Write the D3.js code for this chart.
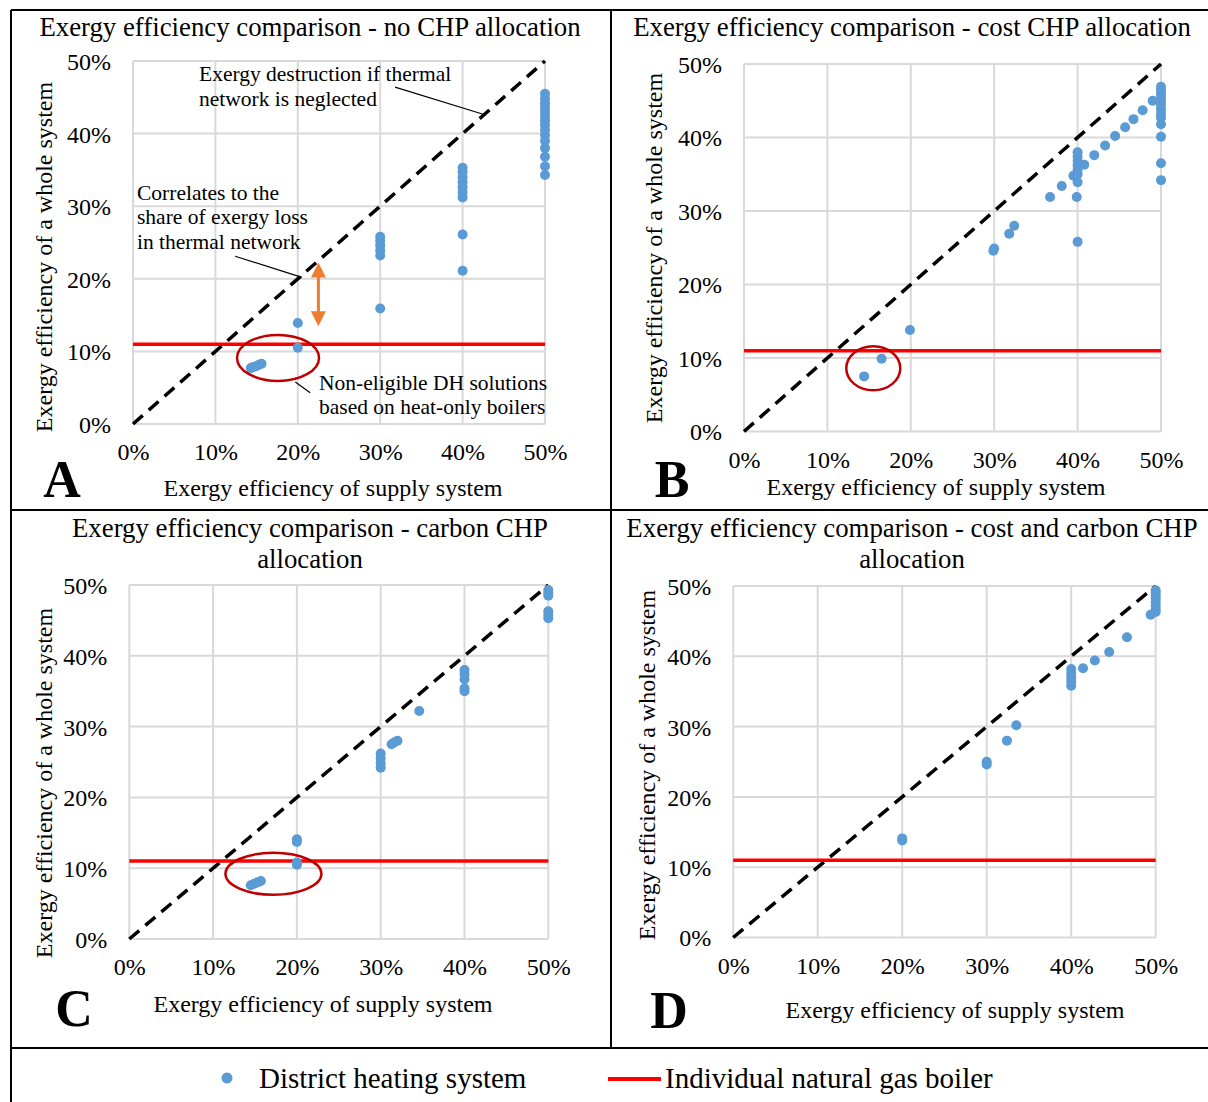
<!DOCTYPE html>
<html>
<head>
<meta charset="utf-8">
<script src="https://cdn.jsdelivr.net/npm/d3@7"></script>
<style>
  body { margin: 0; background: #fff; }
  text { font-family: "Liberation Serif", "Times New Roman", serif; fill: #000; }
</style>
</head>
<body>
<script>
(function() {

    // Tick values (percent) shared by every panel
    var tickValues = [0, 10, 20, 30, 40, 50];
    var boilerEfficiency = 11;

    // District heating points per panel, [supply, whole system] in percent
    var dhNoAllocation = [
        [50, 34.3], [50, 35.5], [50, 36.8], [50, 38.0], [50, 39.0], [50, 39.8], [50, 40.5],
        [50, 41.2], [50, 41.8], [50, 42.4], [50, 43.0], [50, 43.6], [50, 44.2], [50, 44.8], [50, 45.5],
        [40, 31.2], [40, 31.9], [40, 32.6], [40, 33.3], [40, 34.0], [40, 34.7], [40, 35.3],
        [40, 26.1], [40, 21.1],
        [30, 23.2], [30, 23.9], [30, 24.6], [30, 25.2], [30, 25.8], [30, 15.9],
        [20, 13.9], [20, 10.5],
        [14.3, 7.7], [14.6, 7.85], [15.0, 8.0], [15.3, 8.15], [15.6, 8.3]
    ];
    var dhCostAllocation = [
        [14.4, 7.5], [16.5, 9.9], [19.9, 13.8],
        [29.9, 24.6], [30.0, 24.9], [31.8, 26.9], [32.4, 28.0],
        [36.7, 31.9], [38.1, 33.4], [39.9, 31.9], [40.0, 33.9], [39.5, 34.8], [40.0, 25.8],
        [40, 35.0], [40, 35.6], [40, 36.2], [40, 36.8], [40, 37.4], [40, 38.0],
        [40.8, 36.3], [42.0, 37.6], [43.3, 38.9], [44.5, 40.2], [45.7, 41.4], [46.7, 42.5],
        [47.8, 43.7], [49.0, 45.0],
        [50, 46.9], [50, 46.5], [50, 46.0], [50, 45.5], [50, 45.0], [50, 44.4], [50, 43.8],
        [50, 43.2], [50, 42.7], [50, 41.8], [50, 40.1], [50, 36.5], [50, 34.2]
    ];
    var dhCarbonAllocation = [
        [50, 49.3], [50, 48.9], [50, 48.5], [50, 46.3], [50, 45.8], [50, 45.3],
        [40, 38.0], [40, 37.4], [40, 36.7], [40, 35.4], [40, 35.0],
        [34.6, 32.2], [31.3, 27.5], [31.6, 27.75], [32.0, 28.0],
        [30, 26.2], [30, 25.5], [30, 24.8], [30, 24.2],
        [20, 13.7], [20, 14.1], [20, 10.5], [20, 10.8],
        [14.5, 7.6], [14.9, 7.8], [15.3, 8.0], [15.7, 8.2]
    ];
    var dhCostCarbonAllocation = [
        [50, 49.4], [50, 49.0], [50, 48.6], [50, 48.2], [50, 47.7], [50, 47.2], [50, 46.7], [50, 46.3],
        [49.4, 45.9], [46.6, 42.7], [44.5, 40.6], [42.8, 39.4], [41.4, 38.3],
        [40, 38.2], [40, 37.6], [40, 37.0], [40, 36.4], [40, 35.8],
        [33.5, 30.2], [32.4, 28.0],
        [30, 25.0], [30, 24.6],
        [20, 13.8], [20, 14.1]
    ];

    var panelTitles = [
        ['Exergy efficiency comparison - no CHP allocation'],
        ['Exergy efficiency comparison - cost CHP allocation'],
        ['Exergy efficiency comparison - carbon CHP', 'allocation'],
        ['Exergy efficiency comparison - cost and carbon CHP', 'allocation']
    ];
    var panelLetters = ['A', 'B', 'C', 'D'];
    var xTitle = 'Exergy efficiency of supply system';
    var yTitle = 'Exergy efficiency of a whole system';
    var legendLabels = ['District heating system', 'Individual natural gas boiler'];

    var dotColor = '#5B9BD5',
        boilerColor = '#FF0000',
        gridColor = '#D9D9D9';

    var svg = d3.select('body').append('svg')
        .attr('width', 1208)
        .attr('height', 1102);

    // Panel layout in pixels
    var panels = [
        {data: dhNoAllocation, x: [133, 545], y: [424, 61], titleX: 310, titleY: [36],
         letter: [62, 497], xTitle: [333, 496], yTitle: [52, 257]},
        {data: dhCostAllocation, x: [744, 1161], y: [431.5, 64], titleX: 912, titleY: [36],
         letter: [672, 497], xTitle: [936, 495], yTitle: [662, 248]},
        {data: dhCarbonAllocation, x: [129.3, 548.3], y: [939, 585], titleX: 310, titleY: [537, 568],
         letter: [74, 1026], xTitle: [323, 1012], yTitle: [52, 783]},
        {data: dhCostCarbonAllocation, x: [733.2, 1155.7], y: [937.5, 586], titleX: 912, titleY: [537, 568],
         letter: [669, 1028], xTitle: [955, 1018], yTitle: [655, 765]}
    ];

    panels.forEach(function(p, i) {
        var x = d3.scaleLinear().domain([0, 50]).range(p.x);
        var y = d3.scaleLinear().domain([0, 50]).range(p.y);
        var g = svg.append('g');

        // Gridlines
        g.selectAll('.gx').data(tickValues).enter().append('line')
            .attr('x1', function(d) { return x(d); })
            .attr('x2', function(d) { return x(d); })
            .attr('y1', y(0)).attr('y2', y(50))
            .attr('stroke', gridColor).attr('stroke-width', 2);
        g.selectAll('.gy').data(tickValues).enter().append('line')
            .attr('y1', function(d) { return y(d); })
            .attr('y2', function(d) { return y(d); })
            .attr('x1', x(0)).attr('x2', x(50))
            .attr('stroke', gridColor).attr('stroke-width', 2);

        // Axes (labels only)
        var xAxis = g.append('g')
            .attr('transform', 'translate(0,' + (y(0) + 16) + ')')
            .call(d3.axisBottom(x).tickValues(tickValues).tickSize(0)
                .tickFormat(function(d) { return d + '%'; }));
        var yAxis = g.append('g')
            .attr('transform', 'translate(' + (x(0) - 19) + ',0)')
            .call(d3.axisLeft(y).tickValues(tickValues).tickSize(0)
                .tickFormat(function(d) { return d + '%'; }));
        [xAxis, yAxis].forEach(function(a) {
            a.select('.domain').remove();
            a.selectAll('text')
                .attr('font-family', '"Liberation Serif", serif')
                .attr('font-size', 24)
                .attr('fill', '#000');
        });
        yAxis.selectAll('text').attr('dy', '0.35em');

        // Equality line
        g.append('line')
            .attr('x1', x(0)).attr('y1', y(0))
            .attr('x2', x(50)).attr('y2', y(50))
            .attr('stroke', '#000').attr('stroke-width', 3.5)
            .attr('stroke-dasharray', '13 8');

        // Individual boiler reference
        g.append('line')
            .attr('x1', x(0)).attr('x2', x(50))
            .attr('y1', y(boilerEfficiency)).attr('y2', y(boilerEfficiency))
            .attr('stroke', boilerColor).attr('stroke-width', 3.5);

        // District heating points
        g.selectAll('circle.dh').data(p.data).enter().append('circle')
            .attr('class', 'dh')
            .attr('cx', function(d) { return x(d[0]); })
            .attr('cy', function(d) { return y(d[1]); })
            .attr('r', 5)
            .attr('fill', dotColor);

        // Title
        panelTitles[i].forEach(function(t, k) {
            svg.append('text')
                .attr('x', p.titleX).attr('y', p.titleY[k])
                .attr('text-anchor', 'middle')
                .attr('font-size', 26.8)
                .text(t);
        });

        // Axis titles
        svg.append('text')
            .attr('x', p.xTitle[0]).attr('y', p.xTitle[1])
            .attr('text-anchor', 'middle')
            .attr('font-size', 24)
            .text(xTitle);
        svg.append('text')
            .attr('transform', 'translate(' + p.yTitle[0] + ',' + p.yTitle[1] + ') rotate(-90)')
            .attr('text-anchor', 'middle')
            .attr('font-size', 24)
            .text(yTitle);

        // Panel letter
        svg.append('text')
            .attr('x', p.letter[0]).attr('y', p.letter[1])
            .attr('text-anchor', 'middle')
            .attr('font-size', 52)
            .attr('font-weight', 'bold')
            .text(panelLetters[i]);

        p.xs = x;
        p.ys = y;
    });

    // Annotations on panel A
    var ax = panels[0].xs, ay = panels[0].ys;
    var pointers = [
        [[31.8, 46.4], [42.4, 42.7]],
        [[12.4, 23.1], [20.5, 20.2]],
        [[19.7, 5.8], [21.5, 4.3]]
    ];
    pointers.forEach(function(l) {
        svg.append('line')
            .attr('x1', ax(l[0][0])).attr('y1', ay(l[0][1]))
            .attr('x2', ax(l[1][0])).attr('y2', ay(l[1][1]))
            .attr('stroke', '#000').attr('stroke-width', 1.2);
    });

    var notes = [
        {x: 199, y: [81, 106], lines: ['Exergy destruction if thermal', 'network is neglected']},
        {x: 137, y: [200, 224, 249], lines: ['Correlates to the', 'share of exergy loss', 'in thermal network']},
        {x: 319, y: [390, 414], lines: ['Non-eligible DH solutions', 'based on heat-only boilers']}
    ];
    notes.forEach(function(n) {
        n.lines.forEach(function(t, k) {
            svg.append('text')
                .attr('x', n.x).attr('y', n.y[k])
                .attr('font-size', 21.5)
                .text(t);
        });
    });

    // Orange double arrow (gap between equality line and DH)
    var defs = svg.append('defs');
    defs.append('marker')
        .attr('id', 'arrowOrange')
        .attr('viewBox', '0 0 10 10')
        .attr('refX', 5).attr('refY', 5)
        .attr('markerWidth', 5).attr('markerHeight', 5)
        .attr('orient', 'auto-start-reverse')
        .append('path')
        .attr('d', 'M0,0 L10,5 L0,10 z')
        .attr('fill', '#ED7D31');
    svg.append('line')
        .attr('x1', ax(22.5)).attr('x2', ax(22.5))
        .attr('y1', ay(21.2)).attr('y2', ay(14.5))
        .attr('stroke', '#ED7D31').attr('stroke-width', 3)
        .attr('marker-start', 'url(#arrowOrange)')
        .attr('marker-end', 'url(#arrowOrange)');

    // Red ellipses around heat-only boiler solutions
    var ellipses = [
        {p: 0, c: [17.6, 9.1], r: [41, 23]},
        {p: 1, c: [15.5, 8.6], r: [27, 22]},
        {p: 2, c: [17.2, 9.2], r: [48, 21]}
    ];
    ellipses.forEach(function(e) {
        var p = panels[e.p];
        svg.append('ellipse')
            .attr('cx', p.xs(e.c[0])).attr('cy', p.ys(e.c[1]))
            .attr('rx', e.r[0]).attr('ry', e.r[1])
            .attr('fill', 'none')
            .attr('stroke', '#C00000').attr('stroke-width', 2.5);
    });

    // Frame lines
    var frame = svg.append('g').attr('stroke', '#000').attr('stroke-width', 2);
    frame.append('line').attr('x1', 11).attr('x2', 1208).attr('y1', 10).attr('y2', 10);
    frame.append('line').attr('x1', 11).attr('x2', 11).attr('y1', 10).attr('y2', 1102);
    frame.append('line').attr('x1', 611).attr('x2', 611).attr('y1', 10).attr('y2', 1048);
    frame.append('line').attr('x1', 11).attr('x2', 1208).attr('y1', 510).attr('y2', 510);
    frame.append('line').attr('x1', 11).attr('x2', 1208).attr('y1', 1048).attr('y2', 1048);

    // Legend
    var legend = svg.append('g');
    legend.append('circle')
        .attr('cx', 227).attr('cy', 1078).attr('r', 5.5)
        .attr('fill', dotColor);
    legend.append('text')
        .attr('x', 259).attr('y', 1088)
        .attr('font-size', 29)
        .text(legendLabels[0]);
    legend.append('line')
        .attr('x1', 608).attr('x2', 661).attr('y1', 1079).attr('y2', 1079)
        .attr('stroke', boilerColor).attr('stroke-width', 4);
    legend.append('text')
        .attr('x', 665).attr('y', 1088)
        .attr('font-size', 29)
        .text(legendLabels[1]);

})();
</script>
</body>
</html>
